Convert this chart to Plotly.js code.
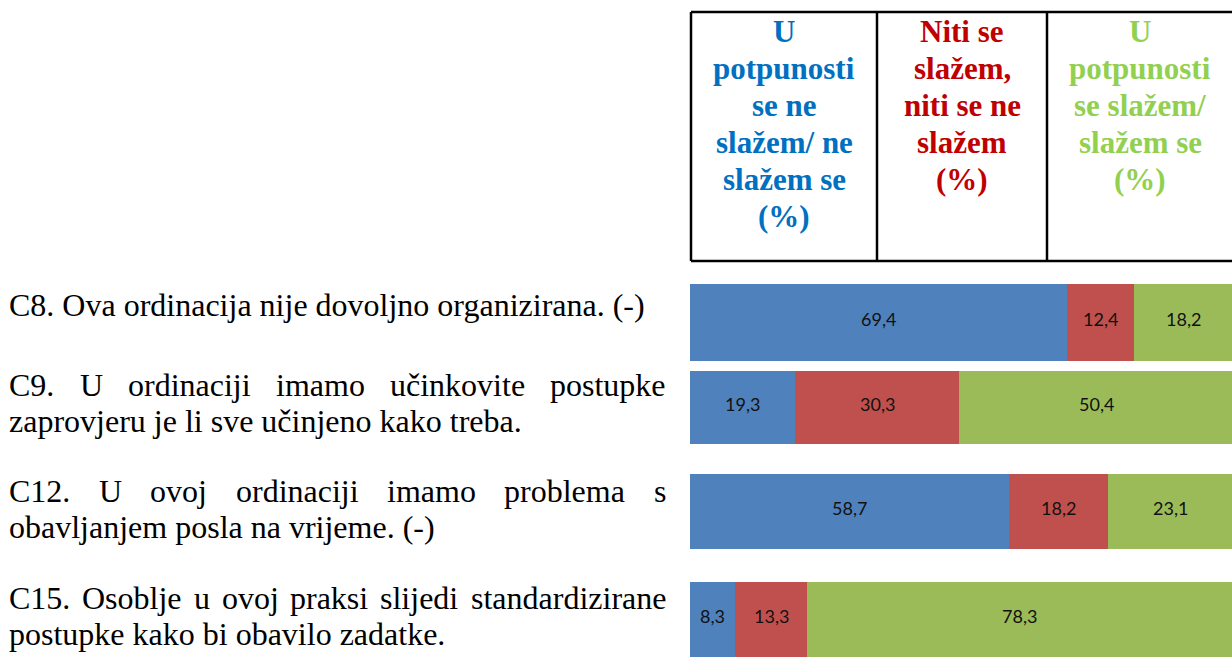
<!DOCTYPE html>
<html>
<head>
<meta charset="utf-8">
<script src="https://cdn.plot.ly/plotly-3.0.1.min.js"></script>
<style>
  html, body { margin: 0; padding: 0; background: #ffffff; }
  #chart { width: 1232px; height: 657px; }
</style>
</head>
<body>
<div id="chart"></div>
<script>
// ---------------- DATA ----------------
const itemIds = ["C8", "C9", "C12", "C15"];
const itemLabelLines = [
  ["C8. Ova ordinacija nije dovoljno organizirana. (-)"],
  ["C9. U ordinaciji imamo učinkovite postupke", "zaprovjeru je li sve učinjeno kako treba."],
  ["C12. U ovoj ordinaciji imamo problema s", "obavljanjem posla na vrijeme. (-)"],
  ["C15. Osoblje u ovoj praksi slijedi standardizirane", "postupke kako bi obavilo zadatke."]
];
const seriesNames = [
  ["U", "potpunosti", "se ne", "slažem/ ne", "slažem se", "(%)"],
  ["Niti se", "slažem,", "niti se ne", "slažem", "(%)"],
  ["U", "potpunosti", "se slažem/", "slažem se", "(%)"]
];
const disagree = [69.4, 19.3, 58.7, 8.3];
const neutral  = [12.4, 30.3, 18.2, 13.3];
const agree    = [18.2, 50.4, 23.1, 78.3];

// ---------------- STYLE / LAYOUT ----------------
const W = 1232, H = 657;
const px = x => x / W;
const py = y => 1 - y / H;

const barColors = ["#4F81BD", "#C0504D", "#9BBB59"];
const headColors = ["#0070C0", "#C00000", "#92D050"];
const seriesValues = [disagree, neutral, agree];

const bands = [[284, 361], [371, 444], [474, 549], [582, 657]];
const barLeft = 690, barFull = 543;

const traces = [];
const annotations = [];
itemIds.forEach((id, i) => {
  const suffix = i === 0 ? "" : String(i + 1);
  let cum = 0;
  seriesValues.forEach((vals, s) => {
    traces.push({
      type: "bar",
      orientation: "h",
      x: [vals[i]],
      y: [0],
      xaxis: "x",
      yaxis: "y" + suffix,
      width: 1,
      marker: { color: barColors[s], line: { width: 0 } },
      hoverinfo: "skip",
      showlegend: false
    });
    // value label, placed through the axes at the middle of its segment
    annotations.push({
      xref: "x", yref: "y" + suffix,
      x: cum + vals[i] / 2, y: 0,
      xanchor: "center", yanchor: "middle", yshift: 4,
      text: String(vals[i]).replace(".", ","), showarrow: false,
      borderpad: 0, borderwidth: 0,
      font: { family: "Lato", size: 18, color: "#111111" }
    });
    cum += vals[i];
  });
});

const layout = {
  width: W, height: H, autosize: false,
  margin: { l: 0, r: 0, t: 0, b: 0, pad: 0 },
  paper_bgcolor: "#ffffff", plot_bgcolor: "rgba(0,0,0,0)",
  barmode: "stack",
  bargap: 0,
  showlegend: false,
  xaxis: {
    domain: [px(barLeft), 1],
    range: [0, (W - barLeft) / barFull * 100],
    visible: false, fixedrange: true
  },
  annotations: annotations,
  shapes: []
};
bands.forEach((b, i) => {
  const key = i === 0 ? "yaxis" : "yaxis" + (i + 1);
  layout[key] = {
    domain: [Math.max(0, py(b[1])), py(b[0])],
    range: [-0.5, 0.5],
    visible: false, fixedrange: true,
    anchor: "x"
  };
});

// ---------- table header ----------
const tTop = 12, tBot = 261;
const colEdges = [691, 877, 1047, 1233];
const lineStyle = { color: "#000000", width: 2.5 };
layout.shapes.push({ type: "line", xref: "paper", yref: "paper", x0: px(colEdges[0]), x1: 1, y0: py(tTop), y1: py(tTop), line: lineStyle });
layout.shapes.push({ type: "line", xref: "paper", yref: "paper", x0: px(colEdges[0]), x1: 1, y0: py(tBot), y1: py(tBot), line: lineStyle });
[0, 1, 2].forEach(k => {
  layout.shapes.push({ type: "line", xref: "paper", yref: "paper", x0: px(colEdges[k]), x1: px(colEdges[k]), y0: py(tTop), y1: py(tBot), line: lineStyle });
});
const serif = "Liberation Serif";
const headFirst = 31.5, headStep = 37;
seriesNames.forEach((lines, s) => {
  const cx = (colEdges[s] + colEdges[s + 1]) / 2;
  lines.forEach((ln, j) => {
    layout.annotations.push({
      xref: "paper", yref: "paper",
      x: px(cx), y: py(headFirst + headStep * j),
      xanchor: "center", yanchor: "middle",
      text: "<b>" + ln + "</b>", showarrow: false,
      borderpad: 0, borderwidth: 0,
      font: { family: serif, size: 31, color: headColors[s] }
    });
  });
});

// ---------- left labels (justified) ----------
const labelFontSize = 32;
const textLeft = 9, textRight = 666;
const lineCenters = [[305], [385, 421], [491, 527], [598, 634]];
const cnv = document.createElement("canvas");
const ctx = cnv.getContext("2d");
ctx.font = labelFontSize + "px \"Liberation Serif\"";
itemLabelLines.forEach((lines, i) => {
  lines.forEach((ln, j) => {
    const yc = py(lineCenters[i][j]);
    const justify = j < lines.length - 1;
    if (!justify) {
      layout.annotations.push({
        xref: "paper", yref: "paper", x: px(textLeft), y: yc,
        xanchor: "left", yanchor: "middle", text: ln, showarrow: false,
        borderpad: 0, borderwidth: 0,
        font: { family: serif, size: labelFontSize, color: "#000000" }
      });
    } else {
      const words = ln.split(" ");
      const widths = words.map(w => ctx.measureText(w).width);
      const total = widths.reduce((a, b) => a + b, 0);
      const gap = (textRight - textLeft - total) / (words.length - 1);
      let x = textLeft;
      words.forEach((w, k) => {
        layout.annotations.push({
          xref: "paper", yref: "paper", x: px(x), y: yc,
          xanchor: "left", yanchor: "middle", text: w, showarrow: false,
          borderpad: 0, borderwidth: 0,
          font: { family: serif, size: labelFontSize, color: "#000000" }
        });
        x += widths[k] + gap;
      });
    }
  });
});

Plotly.newPlot("chart", traces, layout, { displayModeBar: false, staticPlot: true });
</script>
</body>
</html>
